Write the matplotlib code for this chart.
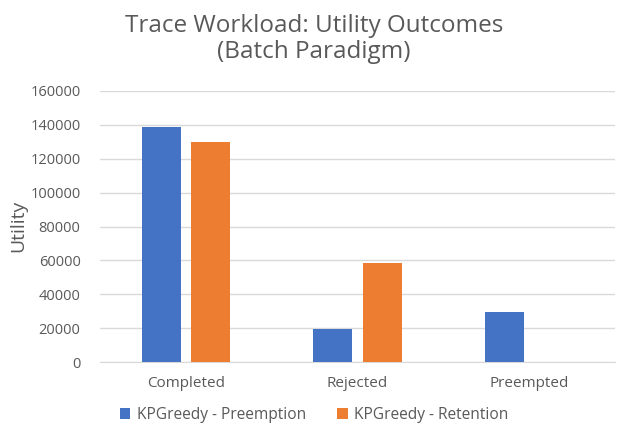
import matplotlib.pyplot as plt
import numpy as np

categories = ["Completed", "Rejected", "Preempted"]
preemption = [139000, 19700, 29500]
retention = [130000, 58700, 0]
series_names = ["KPGreedy - Preemption", "KPGreedy - Retention"]
y_ticks = [0, 20000, 40000, 60000, 80000, 100000, 120000, 140000, 160000]

plt.rcParams['font.family'] = ['Open Sans', 'DejaVu Sans']
grey = '#595959'

fig = plt.figure(figsize=(6.28, 4.33), dpi=100)
ax = fig.add_axes([100 / 628, 1 - 362 / 433, 515 / 628, 271 / 433])

x = np.arange(len(categories))
w = 0.227
off = 0.143
ax.bar(x - off, preemption, w, color='#4472C4', label=series_names[0], zorder=3)
ax.bar(x + off, retention, w, color='#ED7D31', label=series_names[1], zorder=3)

ax.set_xlim(-0.5, len(categories) - 0.5)
ax.set_ylim(0, 160000)
ax.set_yticks(y_ticks)
ax.set_yticklabels([str(t) for t in y_ticks], fontsize=10.5, color=grey)
ax.set_xticks(x)
ax.set_xticklabels(categories, fontsize=11, color=grey)
ax.tick_params(axis='y', length=0, pad=14)
ax.tick_params(axis='x', length=0, pad=10)
ax.grid(axis='y', color='#D9D9D9', linewidth=1, zorder=0)
for s in ['top', 'right', 'left']:
    ax.spines[s].set_visible(False)
ax.spines['bottom'].set_color('#D9D9D9')

# y-Achsentitel fest platzieren, damit er nicht abgeschnitten wird
fig.text(18 / 628, 1 - 226 / 433, "Utility", rotation=90, ha='center', va='center',
         fontsize=14, color=grey)
fig.text(0.5, 1 - 39 / 433, "Trace Workload: Utility Outcomes\n(Batch Paradigm)",
         ha='center', va='center', fontsize=17.5, color=grey, linespacing=1.15)

# Legende mittig zur gesamten Abbildung
ax.legend(loc='center', bbox_to_anchor=(0.5, 1 - 415 / 433), bbox_transform=fig.transFigure,
          ncol=2, frameon=False, fontsize=11.2, labelcolor=grey, handlelength=0.7,
          handleheight=0.7, handletextpad=0.4, columnspacing=2.0)

fig.savefig("out.png", dpi=100)
